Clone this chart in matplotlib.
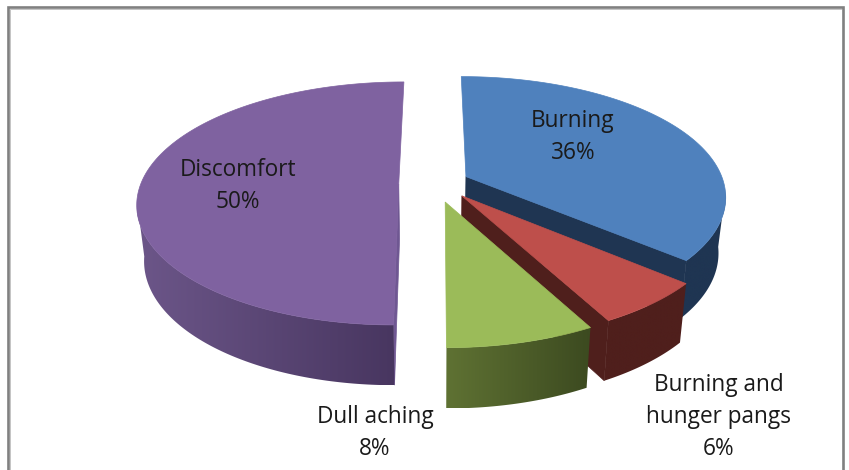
import numpy as np
import matplotlib
matplotlib.use('Agg')
import matplotlib.pyplot as plt
from matplotlib.colors import LinearSegmentedColormap
from matplotlib.patches import Polygon

categories = ['Burning', 'Burning and\nhunger pangs', 'Dull aching', 'Discomfort']
values = [36, 6, 8, 50]
top_colors = ['#4F81BD', '#BE4F4B', '#9BBB59', '#7F62A0']
side_left = ['#1F3552', '#4F1F1C', '#5F7233', '#6C5689']
side_right = ['#1F3552', '#4F1F1C', '#3C4A20', '#483660']
cut_colors = ['#1F3552', '#4F1F1C', None, '#6F5792']
label_pos = [(573, 137), (719, 417), (375, 433), (238, 186)]
nudge_x = [4, 8, 4, -2]
nudge_y = [-1, 0, 3, 0]

# pie geometry in image pixels
cx, cy = 433, 184
rx, ry = 258, 121.5
persp = 0.16
explode = 0.125
depth = 55


def project(u, v, i, low=False):  # unit disk -> pixels, with a bit of perspective
    s = 1 + persp * v
    if low:
        s = s * 0.975
    x = cx + rx * u * s + nudge_x[i]
    y = cy + ry * v * s + nudge_y[i]
    if low:
        y = y + depth * (1 + persp * v)
    return x, y


def draw_slice(ax, start, end, i):
    mid = (start + end) / 2
    off_u = explode * np.sin(mid)
    off_v = -explode * np.cos(mid)
    t = np.linspace(start, end, 200)
    u = np.sin(t) + off_u
    v = -np.cos(t) + off_v

    # side face along the rim, only the part facing us, shaded left to right
    front = -np.cos(t) > 0.12
    xa, ya = project(u[front], v[front], i)
    xb, yb = project(u[front], v[front], i, low=True)
    side = Polygon(np.c_[np.r_[xa, xb[::-1]], np.r_[ya, yb[::-1]]], fc='none', ec='none', transform=ax.transData)
    ax.add_patch(side)
    cmap = LinearSegmentedColormap.from_list('side', [side_left[i], side_right[i]])
    img = ax.imshow(np.linspace(0, 1, 256)[None, :], cmap=cmap, aspect='auto',
                    extent=(min(xa.min(), xb.min()), max(xa.max(), xb.max()), max(yb.max(), ya.max()), min(ya.min(), yb.min())),
                    zorder=i * 2 + 1)
    img.set_clip_path(side)

    # cut faces: clockwise edge for blue and red, starting edge for purple
    if cut_colors[i]:
        ang = end if i < 2 else start
        uu, vv = np.sin(ang) + off_u, -np.cos(ang) + off_v
        col = cut_colors[i]
        face = [project(off_u, off_v, i), project(uu, vv, i), project(uu, vv, i, low=True), project(off_u, off_v, i, low=True)]
        ax.add_patch(Polygon(face, fc=col, ec=col, lw=0.5, zorder=i * 2 + 0.5))

    # top face
    xs, ys = project(np.r_[off_u, u], np.r_[off_v, v], i)
    ax.add_patch(Polygon(np.c_[xs, ys], fc=top_colors[i], ec=top_colors[i], lw=0.5, zorder=i * 2 + 2))


fig = plt.figure(figsize=(8.49, 4.70), dpi=100)
ax = fig.add_axes([0, 0, 1, 1])

# chart border, open at the bottom
ax.plot([8, 8, 843, 843], [470, 7, 7, 470], color='#808080', lw=1.9, solid_joinstyle='miter', zorder=0.2)
ax.plot([10, 10, 841], [470, 9, 9], color='#C4C4C4', lw=0.7, zorder=0.2)

# blue, purple, red, green is the order that keeps overlaps right
angles = np.cumsum([0] + values) / sum(values) * 2 * np.pi
order = [0, 3, 1, 2]
for i in order:
    draw_slice(ax, angles[i], angles[i + 1], i)

for name, val, pos in zip(categories, values, label_pos):
    ax.text(pos[0], pos[1], name + '\n' + str(val) + '%', ha='center', va='center', fontsize=16.3,
            family=['Open Sans', 'DejaVu Sans'], color='#1A1A1A', linespacing=1.42, zorder=20)

ax.set_xlim(0, 849)
ax.set_ylim(470, 0)
ax.axis('off')

fig.savefig('out.png', dpi=100)
